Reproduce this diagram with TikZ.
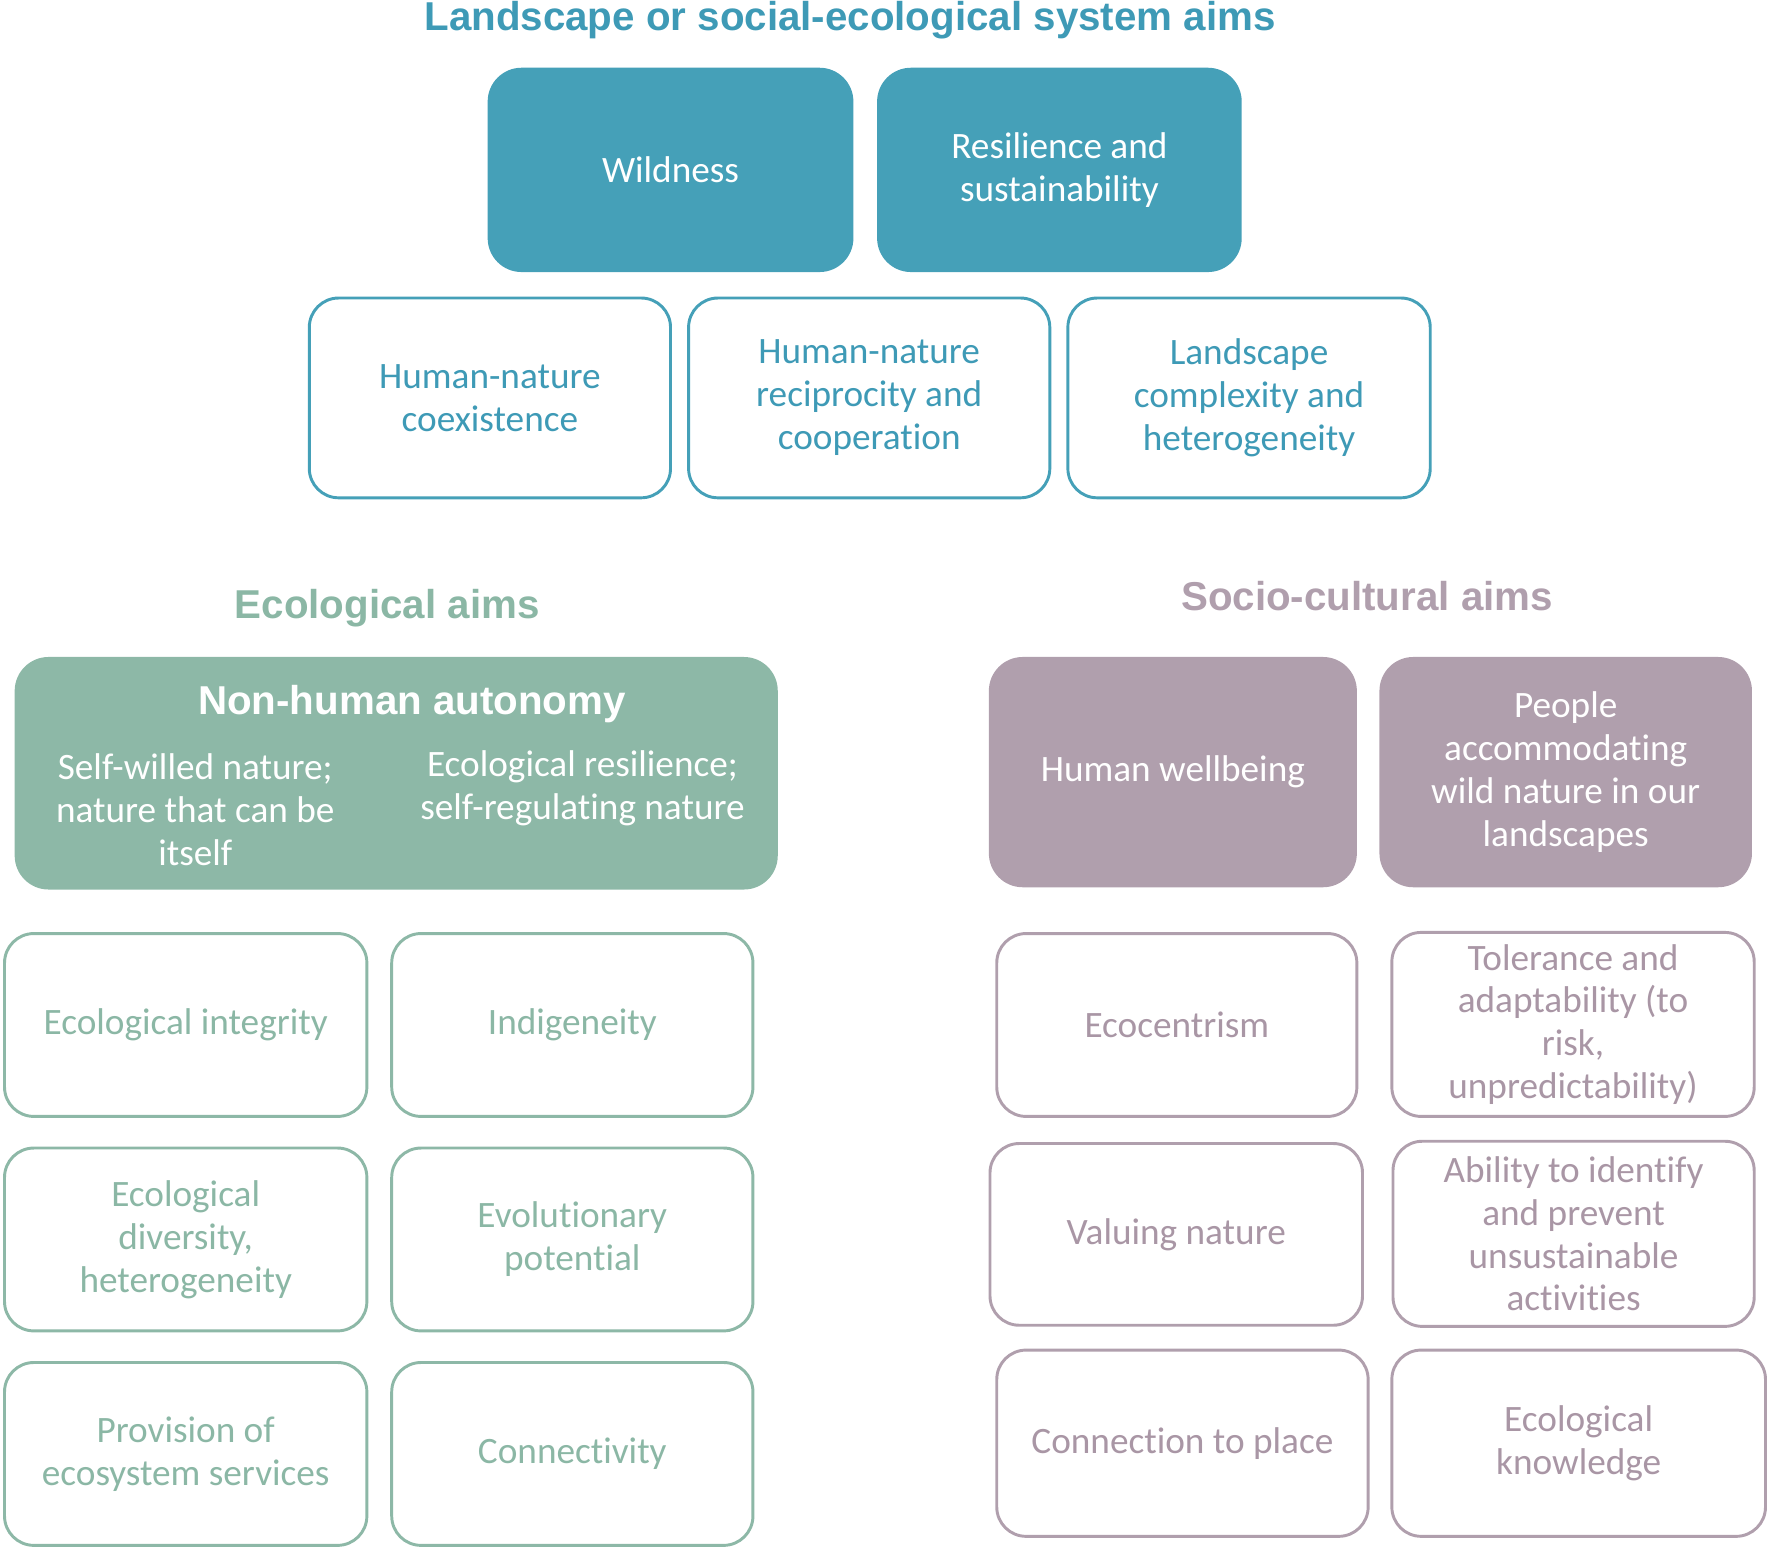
\documentclass[tikz,border=0pt]{standalone}
\usepackage{fontspec}
\setmainfont{Carlito}[Ligatures=NoCommon]
\newfontfamily\headfont{Liberation Sans}
\definecolor{tealc}{HTML}{45A0B8}
\definecolor{tealt}{HTML}{3E9AB6}
\definecolor{greenc}{HTML}{8DB8A7}
\definecolor{greent}{HTML}{8BB7A5}
\definecolor{mauvec}{HTML}{B09FAD}
\definecolor{mauvet}{HTML}{A996A5}
\tikzset{
  x=1pt,y=1pt,
  body/.style={font=\fontsize{33}{38}\selectfont, align=center, inner sep=0pt},
  head/.style={font=\headfont\bfseries\fontsize{35.7}{40}\selectfont, inner sep=0pt, anchor=base},
  filled/.style={body, rounded corners=30pt, text=white},
  outl/.style={body, draw, line width=2.6pt, rounded corners=26pt, fill=white},
  tealfill/.style={filled, fill=tealc},
  tealbox/.style={outl, draw=tealc, text=tealt},
  greenfill/.style={filled, fill=greenc},
  greenbox/.style={outl, draw=greenc, text=greent},
  mauvefill/.style={filled, fill=mauvec},
  mauvebox/.style={outl, draw=mauvec, text=mauvet},
  sz/.style 2 args={minimum width=#1pt, minimum height=#2pt}
}
\begin{document}
\begin{tikzpicture}
\useasboundingbox (0,0) rectangle (1568,-1375);
% top
\node[head, text=tealt] (title) at (753,-27) {Landscape or social-ecological system aims};
\node[tealfill, sz={324}{181}] (wild) at (594,-150.5) {Wildness};
\node[tealfill, sz={323}{181}] (resil) at (938.5,-150.5) {Resilience and\\sustainability};
\node[tealbox, sz={320}{177}] (coex) at (434,-352.5) {Human-nature\\coexistence};
\node[tealbox, sz={320}{177}] (recip) at (770,-352.5) {Human-nature\\reciprocity and\\cooperation};
\node[tealbox, sz={321}{177}] (compl) at (1106.5,-352.5) {Landscape\\complexity and\\heterogeneity};
% ecological
\node[head, text=greent] (ecoh) at (343,-548) {Ecological aims};
\node[greenfill, sz={676}{206}] (nha) at (351,-685) {};
\node[head, text=white] (nhat) at (365,-633) {Non-human autonomy};
\node[body, text=white] (nhal) at (173,-717) {Self-willed nature;\\nature that can be\\itself};
\node[body, text=white] (nhar) at (516,-698) {Ecological resilience;\\self-regulating nature};
\node[greenbox, sz={321}{162}] (integ) at (164.5,-908) {Ecological integrity};
\node[greenbox, sz={320}{162}] (indig) at (507,-908) {Indigeneity};
\node[greenbox, sz={321}{162}] (divers) at (164.5,-1098) {Ecological\\diversity,\\heterogeneity};
\node[greenbox, sz={320}{162}] (evol) at (507,-1098) {Evolutionary\\potential};
\node[greenbox, sz={321}{162}] (provis) at (164.5,-1288) {Provision of\\ecosystem services};
\node[greenbox, sz={320}{162}] (conn) at (507,-1288) {Connectivity};
% socio-cultural
\node[head, text=mauvec] (soch) at (1211,-541) {Socio-cultural aims};
\node[mauvefill, sz={326}{204}] (wellb) at (1039,-684) {Human wellbeing};
\node[mauvefill, sz={330}{204}] (people) at (1387,-684) {People\\accommodating\\wild nature in our\\landscapes};
\node[mauvebox, sz={319}{162}] (ecoc) at (1042.5,-908) {Ecocentrism};
\node[mauvebox, sz={321}{163}] (toler) at (1393.5,-907.5) {Tolerance and\\adaptability (to\\risk,\\unpredictability)};
\node[mauvebox, sz={330}{161}] (valu) at (1042,-1093.5) {Valuing nature};
\node[mauvebox, sz={320}{164}] (abil) at (1394,-1093) {Ability to identify\\and prevent\\unsustainable\\activities};
\node[mauvebox, sz={329}{165}] (place) at (1047.5,-1278.5) {Connection to place};
\node[mauvebox, sz={331}{165}] (know) at (1398.5,-1278.5) {Ecological\\knowledge};
\end{tikzpicture}
\end{document}
